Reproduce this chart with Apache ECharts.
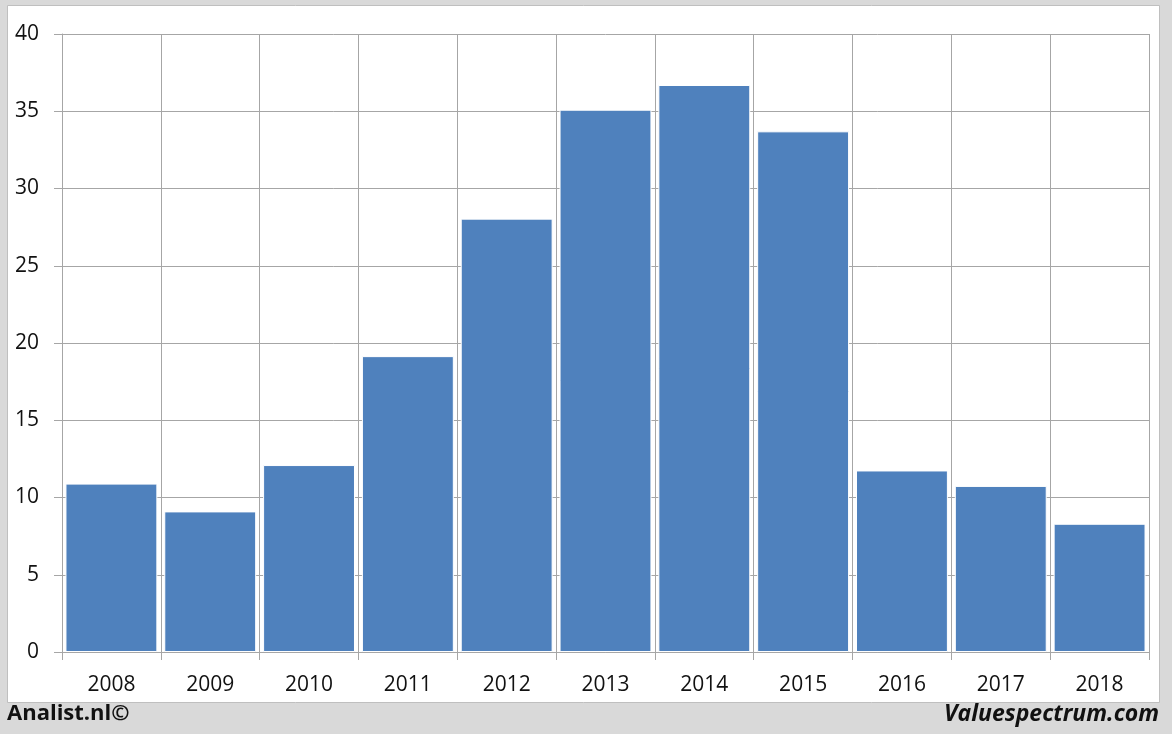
<!DOCTYPE html>
<html><head><meta charset="utf-8">
<script src="https://cdn.jsdelivr.net/npm/echarts@6/dist/echarts.min.js"></script>
<style>html,body{margin:0;padding:0;background:#d9d9d9}#c{width:1172px;height:734px}</style>
</head><body><div id="c"></div>
<script>
const categories = ['2008','2009','2010','2011','2012','2013','2014','2015','2016','2017','2018'];
const values = [10.9, 9.1, 12.1, 19.15, 28.05, 35.1, 36.7, 33.7, 11.75, 10.75, 8.3];
const yTicks = {min: 0, max: 40, interval: 5};
const footerLeft = 'Analist.nl©';
const footerRight = 'Valuespectrum.com';

const chart = echarts.init(document.getElementById('c'));
const font = 'Open Sans, Noto Sans, sans-serif';
chart.setOption({
  backgroundColor: '#d9d9d9',
  animation: false,
  graphic: [
    {type:'rect', shape:{x:7.5,y:5.5,width:1152,height:697}, style:{fill:'#ffffff', stroke:'#bfbfbf', lineWidth:1}, z:-10},
    {type:'text', left:7, top:703, style:{text:footerLeft, font:'bold 22px '+font, fill:'#111'}},
    {type:'text', right:13, top:703, style:{text:footerRight, font:'italic bold 23px '+font, fill:'#111'}}
  ],
  grid: {left:62, right:23, top:34, bottom:82},
  xAxis: {
    type:'category', data:categories,
    axisLine:{show:true, lineStyle:{color:'#a6a6a6'}},
    axisTick:{show:true, length:8, lineStyle:{color:'#a6a6a6'}},
    splitLine:{show:true, lineStyle:{color:'#a6a6a6'}},
    axisLabel:{color:'#111', fontSize:21, fontFamily:font, margin:23}
  },
  yAxis: {
    type:'value', min:yTicks.min, max:yTicks.max, interval:yTicks.interval,
    axisLine:{show:true, lineStyle:{color:'#a6a6a6'}},
    axisTick:{show:true, length:8, lineStyle:{color:'#a6a6a6'}},
    splitLine:{show:true, lineStyle:{color:'#a6a6a6'}},
    axisLabel:{color:'#111', fontSize:21, fontFamily:font, margin:23}
  },
  series: [{
    type:'bar', data:values, barCategoryGap:'7%',
    itemStyle:{color:'#4f81bd', borderColor:'#ffffff', borderWidth:1}
  }]
});
</script></body></html>
